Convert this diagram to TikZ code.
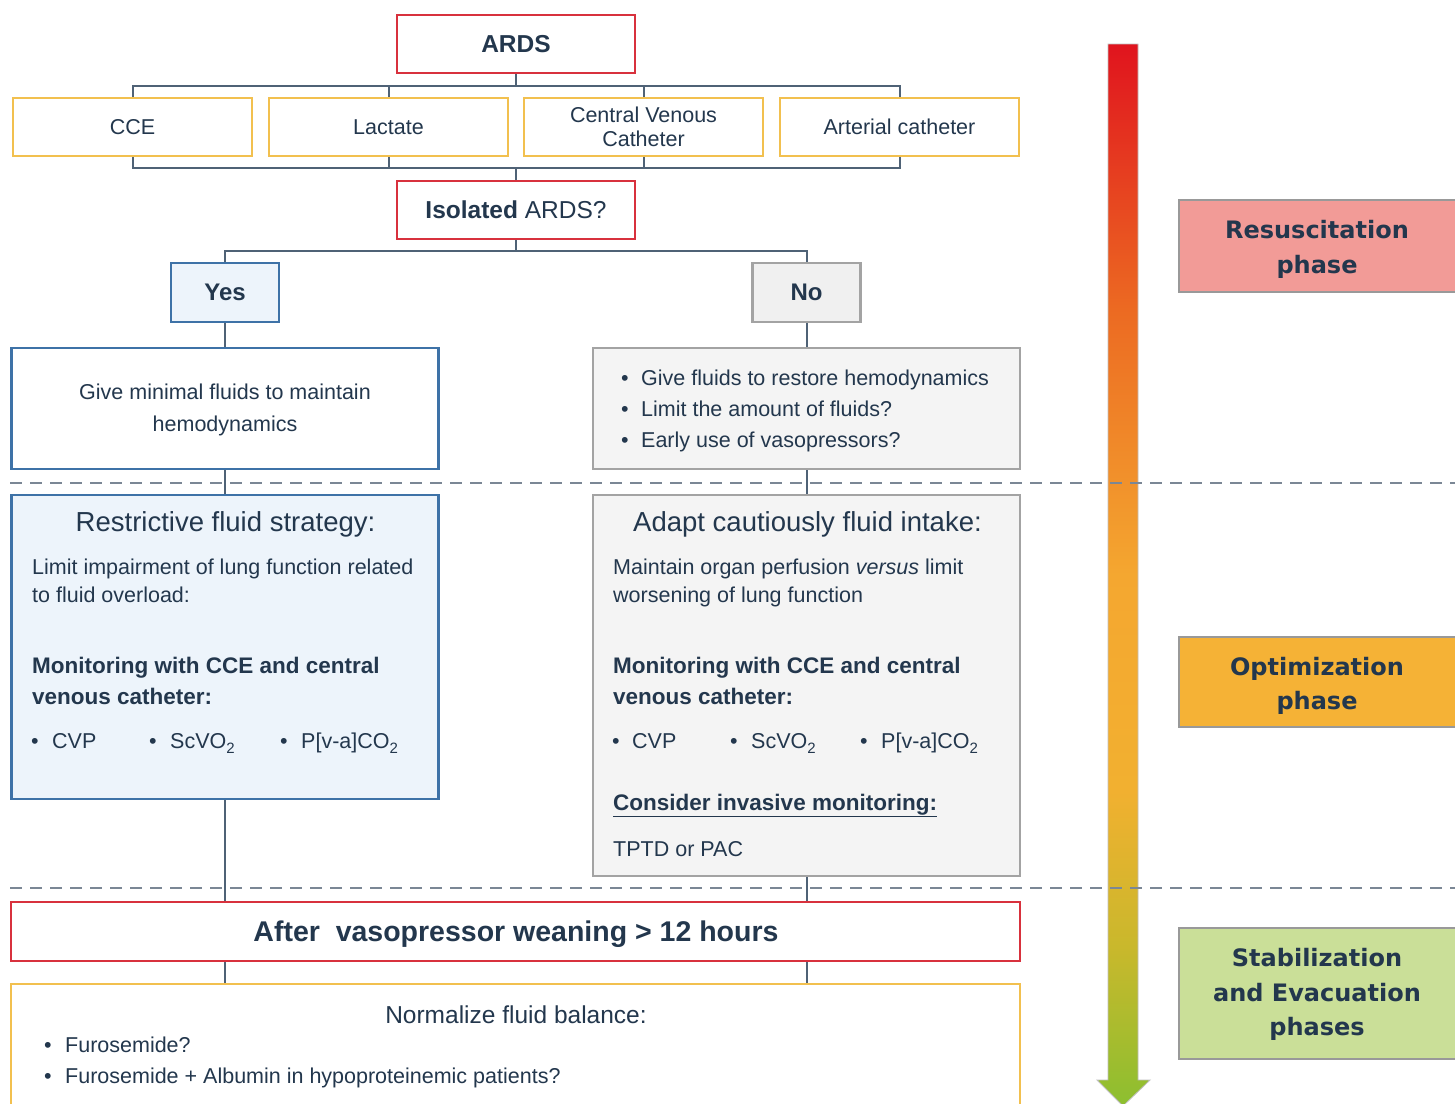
\documentclass[tikz,border=0pt]{standalone}
\usepackage{fontspec}
\setmainfont{Liberation Sans}
\newfontfamily\phasefont{DejaVu Sans}
\usetikzlibrary{calc}
\definecolor{txtc}{HTML}{23374D}
\definecolor{connc}{HTML}{4F6276}
\definecolor{redc}{HTML}{D8313D}
\definecolor{orc}{HTML}{F2C04F}
\definecolor{bluec}{HTML}{3E72A7}
\definecolor{grayc}{HTML}{A3A3A3}
\definecolor{bluefill}{HTML}{EDF4FB}
\definecolor{grayfill}{HTML}{F4F4F4}
\definecolor{nofill}{HTML}{F0F0F0}
\definecolor{resfill}{HTML}{F29B97}
\definecolor{optfill}{HTML}{F5B236}
\definecolor{stabfill}{HTML}{CADF98}
\definecolor{dashc}{HTML}{7B8795}
\definecolor{gA}{HTML}{8CBF30}
\definecolor{gB}{HTML}{C9B82C}
\definecolor{gC}{HTML}{F2B030}
\definecolor{gD}{HTML}{F4A730}
\definecolor{gE}{HTML}{EC6A22}
\definecolor{gF}{HTML}{E0141E}
\pgfdeclareverticalshading{phasegrad}{100bp}{color(0bp)=(gA); color(25bp)=(gA); color(32.5bp)=(gB); color(40bp)=(gC); color(50bp)=(gD); color(62.5bp)=(gE); color(75bp)=(gF); color(100bp)=(gF)}
\newcommand\fsN{\fontsize{21.5}{25}\selectfont}
\newcommand\fsB{\fontsize{22.5}{25}\selectfont\bfseries}
\newcommand\fsT{\fontsize{27.5}{30}\selectfont}
\newcommand\subtwo{\raisebox{-5pt}{\fontsize{15}{15}\selectfont 2}}
\newcommand\bul[1]{\makebox[#1][l]{•}}
\begin{document}
\begin{tikzpicture}[x=1pt,y=-1pt,
  bx/.style={inner sep=0pt, line width=2.2pt, text=txtc},
  redbox/.style={bx, draw=redc, fill=white},
  orbox/.style={bx, draw=orc, fill=white},
  bluebox/.style={bx, draw=bluec},
  graybox/.style={bx, draw=grayc, fill=grayfill},
  phasebox/.style={inner sep=0pt, draw=gray!80, line width=1.4pt},
  conn/.style={draw=connc, line width=2pt},
  sep/.style={draw=dashc, line width=1.6pt, dash pattern=on 12pt off 8pt},
  tx/.style={inner sep=0pt, text=txtc},
  ph/.style={inner sep=0pt, text=txtc, font=\phasefont\bfseries\fontsize{24}{30}\selectfont, anchor=base}
]
\useasboundingbox (0,0) rectangle (1455,1103);
\fill[white] (0,0) rectangle (1455,1103);

% gradient arrow
\shade[shading=phasegrad, draw=black!25, line width=0.8pt]
  (1108,44) -- (1138,44) -- (1138,1080) -- (1150,1080) -- (1123,1106) -- (1097,1080) -- (1108,1080) -- cycle;

% top boxes
\node[redbox, minimum width=238, minimum height=58, font=\fontsize{24.5}{28}\selectfont\bfseries] (ards) at (516,44) {ARDS};
\node[orbox, minimum width=239, minimum height=58, font=\fsN] (cce) at (132.5,127) {CCE};
\node[orbox, minimum width=239, minimum height=58, font=\fsN] (lac) at (388.5,127) {Lactate};
\node[orbox, minimum width=239, minimum height=58, font=\fsN, align=center] (cvc) at (643.5,127) {Central Venous\\[-1pt]Catheter};
\node[orbox, minimum width=239, minimum height=58, font=\fsN] (art) at (899.5,127) {Arterial catheter};
\node[redbox, minimum width=238, minimum height=58, font=\fontsize{24.5}{28}\selectfont] (iso) at (516,210) {{\bfseries Isolated} ARDS?};
\node[bluebox, fill=bluefill, minimum width=108, minimum height=59, font=\fontsize{24}{28}\selectfont\bfseries] (yes) at (225,292.5) {Yes};
\node[graybox, fill=nofill, minimum width=108, minimum height=59, font=\fontsize{24}{28}\selectfont\bfseries] (no) at (806.5,292.5) {No};

% main boxes
\node[bluebox, fill=white, minimum width=427, minimum height=121] (lb1) at (225,408.5) {};
\node[graybox, minimum width=427, minimum height=121] (rb1) at (806.5,408.5) {};
\node[bluebox, fill=bluefill, minimum width=427, minimum height=304] (lb2) at (225,647) {};
\node[graybox, minimum width=427, minimum height=381] (rb2) at (806.5,685.5) {};
\node[redbox, minimum width=1009, minimum height=59] (after) at (515.5,931.5) {};
\node[orbox, minimum width=1009, minimum height=131] (norm) at (515.5,1049.5) {};

% phase boxes
\node[phasebox, fill=resfill, minimum width=281, minimum height=92] (res) at (1319.5,246) {};
\node[phasebox, fill=optfill, minimum width=281, minimum height=90] (opt) at (1319.5,682) {};
\node[phasebox, fill=stabfill, minimum width=281, minimum height=131] (stab) at (1319.5,993.5) {};

% connectors
\coordinate (bus1) at (516,86);
\coordinate (bus2) at (516,168);
\coordinate (bus3) at (516,251);
\draw[conn] (ards.south) -- (bus1);
\draw[conn] (cce.north) |- (bus1) -| (art.north);
\draw[conn] (lac.north) -- (lac.north |- bus1);
\draw[conn] (cvc.north) -- (cvc.north |- bus1);
\draw[conn] (cce.south) |- (bus2) -| (art.south);
\draw[conn] (lac.south) -- (lac.south |- bus2);
\draw[conn] (cvc.south) -- (cvc.south |- bus2);
\draw[conn] (bus2) -- (iso.north);
\draw[conn] (iso.south) -- (bus3);
\draw[conn] (yes.north) |- (bus3) -| (no.north);
\draw[conn] (yes.south) -- (lb1.north);
\draw[conn] (no.south) -- (rb1.north);
\draw[conn] (lb1.south) -- (lb2.north);
\draw[conn] (rb1.south) -- (rb2.north);
\draw[conn] (lb2.south) -- (lb2.south |- after.north);
\draw[conn] (rb2.south) -- (rb2.south |- after.north);
\draw[conn] (after.south -| lb2.south) -- (norm.north -| lb2.south);
\draw[conn] (after.south -| rb2.south) -- (norm.north -| rb2.south);

% dashed separators
\draw[sep] (10,483) -- (1455,483);
\draw[sep] (10,888) -- (1455,888);

% left box 1
\node[tx, anchor=base, font=\fsN] (l1a) at (225,399) {Give minimal fluids to maintain};
\node[tx, anchor=base, font=\fsN] (l1b) at (225,431) {hemodynamics};
% right box 1
\node[tx, anchor=base west, font=\fsN] (r1a) at (621,385) {\bul{20pt}Give fluids to restore hemodynamics};
\node[tx, anchor=base west, font=\fsN] (r1b) at (621,416) {\bul{20pt}Limit the amount of fluids?};
\node[tx, anchor=base west, font=\fsN] (r1c) at (621,447) {\bul{20pt}Early use of vasopressors?};

% left box 2
\node[tx, anchor=base, font=\fsT] (l2t) at (225.5,531) {Restrictive fluid strategy:};
\node[tx, anchor=base west, font=\fsN] (l2a) at (32,574) {Limit impairment of lung function related};
\node[tx, anchor=base west, font=\fsN] (l2b) at (32,602) {to fluid overload:};
\node[tx, anchor=base west, font=\fsB] (l2c) at (32,673) {Monitoring with CCE and central};
\node[tx, anchor=base west, font=\fsB] (l2d) at (32,704) {venous catheter:};
\node[tx, anchor=base west, font=\fsN] (l2e) at (31,748) {\bul{21pt}CVP};
\node[tx, anchor=base west, font=\fsN] (l2f) at (149,748) {\bul{21pt}ScVO\subtwo};
\node[tx, anchor=base west, font=\fsN] (l2g) at (280,748) {\bul{21pt}P[v-a]CO\subtwo};

% right box 2
\node[tx, anchor=base, font=\fsT] (r2t) at (807.5,531) {Adapt cautiously fluid intake:};
\node[tx, anchor=base west, font=\fsN] (r2a) at (613,574) {Maintain organ perfusion \textit{versus} limit};
\node[tx, anchor=base west, font=\fsN] (r2b) at (613,602) {worsening of lung function};
\node[tx, anchor=base west, font=\fsB] (r2c) at (613,673) {Monitoring with CCE and central};
\node[tx, anchor=base west, font=\fsB] (r2d) at (613,704) {venous catheter:};
\node[tx, anchor=base west, font=\fsN] (r2e) at (612,748) {\bul{20pt}CVP};
\node[tx, anchor=base west, font=\fsN] (r2f) at (730,748) {\bul{21pt}ScVO\subtwo};
\node[tx, anchor=base west, font=\fsN] (r2g) at (860,748) {\bul{21pt}P[v-a]CO\subtwo};
\node[tx, anchor=base west, font=\fsB] (r2h) at (613,810) {\underline{Consider invasive monitoring:}};
\node[tx, anchor=base west, font=\fsN] (r2i) at (613,856) {TPTD or PAC};

% after / normalize
\node[tx, anchor=base, font=\fontsize{28.5}{32}\selectfont\bfseries] (aft) at (516,941) {After~ vasopressor weaning > 12 hours};
\node[tx, anchor=base, font=\fontsize{24.5}{28}\selectfont] (nt) at (516,1023) {Normalize fluid balance:};
\node[tx, anchor=base west, font=\fsN] (na) at (44,1052) {\bul{21pt}Furosemide?};
\node[tx, anchor=base west, font=\fsN] (nb) at (44,1083) {\bul{21pt}Furosemide + Albumin in hypoproteinemic patients?};

% phase labels
\node[ph] (resa) at (1317,238) {Resuscitation};
\node[ph] (resb) at (1317,273) {phase};
\node[ph] (opta) at (1317,675) {Optimization};
\node[ph] (optb) at (1317,709) {phase};
\node[ph] (staba) at (1317,966) {Stabilization};
\node[ph] (stabb) at (1317,1001) {and Evacuation};
\node[ph] (stabc) at (1317,1035) {phases};
\end{tikzpicture}
\end{document}
